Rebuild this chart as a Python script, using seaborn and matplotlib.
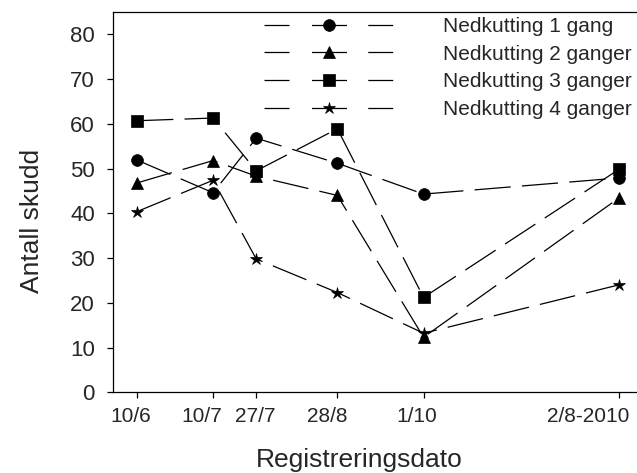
import matplotlib
matplotlib.use("Agg")
import matplotlib.pyplot as plt
import matplotlib.transforms as mtransforms
import seaborn as sns
import pandas as pd

# Registration dates (days after 10/6) and labels
days = [0, 30, 47, 79, 113, 190]
date_labels = ["10/6", "10/7", "27/7", "28/8", "1/10", "2/8-2010"]

series_names = ["Nedkutting 1 gang", "Nedkutting 2 ganger",
                "Nedkutting 3 ganger", "Nedkutting 4 ganger"]
cut1 = [51.9, 44.6, 56.8, 51.2, 44.3, 47.9]
cut2 = [46.8, 51.8, 48.3, 44.0, 12.3, 43.4]
cut3 = [60.7, 61.3, 49.5, 58.9, 21.2, 49.8]
cut4 = [40.4, 47.4, 29.8, 22.3, 13.2, 24.0]
values = [cut1, cut2, cut3, cut4]
y_ticks = [0, 10, 20, 30, 40, 50, 60, 70, 80]

markers = ["o", "^", "s", "*"]
msizes = [8.5, 8.5, 8, 9]
# horizontal nudges (px) of the date labels, as placed in the original
label_shift_px = [-6, -11, -1, -10, -7, 11]

sns.set_style("ticks")
plt.rcParams["font.family"] = ["Liberation Sans", "DejaVu Sans"]

fig = plt.figure(figsize=(6.37, 4.73), dpi=100)
ax = fig.add_axes([113 / 637, 1 - 392.3 / 473, 524 / 637, 380.3 / 473])

for name, vals, m, ms in zip(series_names, values, markers, msizes):
    df = pd.DataFrame({"x": days, "y": vals})
    sns.lineplot(data=df, x="x", y="y", ax=ax, color="black", marker=m,
                 markersize=ms, markeredgecolor="black", markerfacecolor="black",
                 markeredgewidth=0.5, linewidth=0.9, linestyle=(0, (29, 9)),
                 label=name)

ax.set_xlim(-9.5, 197.2)
ax.set_ylim(0, 85)
ax.set_xticks(days)
ax.set_xticklabels(date_labels)
ax.set_yticks(y_ticks)
ax.tick_params(axis="x", labelsize=15, direction="out", length=4.5, width=0.9,
               color="black", pad=6)
ax.tick_params(axis="y", labelsize=16, direction="out", length=4, width=0.9,
               color="black", pad=9)
ax.set_xlabel("Registreringsdato", fontsize=19, labelpad=16, x=0.47)
ax.set_ylabel("Antall skudd", fontsize=19, labelpad=19, y=0.45)

lbls = ax.get_xticklabels()
for i, (lab, dx) in enumerate(zip(lbls, label_shift_px)):
    if i == len(lbls) - 1:
        lab.set_horizontalalignment("right")
    off = mtransforms.ScaledTranslation(dx / 100, 0, fig.dpi_scale_trans)
    lab.set_transform(lab.get_transform() + off)

for side in ["left", "bottom", "top"]:
    ax.spines[side].set_visible(True)
    ax.spines[side].set_color("black")
    ax.spines[side].set_linewidth(0.9)
ax.spines["right"].set_visible(False)

leg = ax.legend(loc="upper right", bbox_to_anchor=(0.99, 0.987), frameon=False,
                fontsize=15, handlelength=6.3, handletextpad=2.3,
                labelspacing=0.42, borderaxespad=0.0, borderpad=0.0)
for ln in leg.get_lines():
    ln.set_linestyle((0, (20, 18, 28, 17, 20, 60)))

fig.savefig("out.png", dpi=100)
